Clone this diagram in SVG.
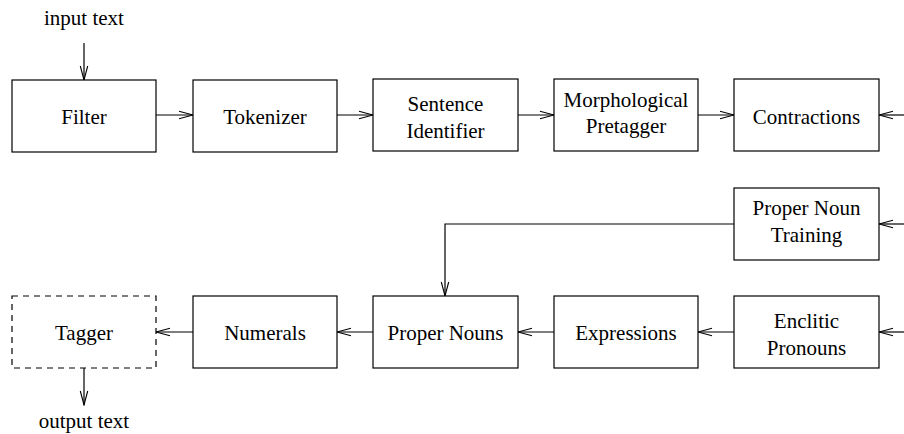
<svg xmlns="http://www.w3.org/2000/svg" width="904" height="434" viewBox="0 0 904 434">
<defs>
<style>
.box{fill:#fff;stroke:#000;stroke-width:1.2}
.dash{fill:#fff;stroke:#000;stroke-width:1.2;stroke-dasharray:6,5}
.lbl{font-family:"Liberation Serif","Times New Roman",serif;font-size:21px;fill:#000;text-anchor:middle}
.conn{fill:none;stroke:#000;stroke-width:1.2;marker-end:url(#ah)}
</style>
<marker id="ah" markerUnits="userSpaceOnUse" markerWidth="16" markerHeight="12" viewBox="0 0 16 12" refX="15" refY="6" orient="auto">
<path d="M1,2.3 L15,6 L1,9.7" fill="none" stroke="#000" stroke-width="1.1"/>
</marker>
</defs>
<rect width="904" height="434" fill="#fff"/>
<g id="connectors">
<path class="conn" d="M84,43 V80"/>
<path class="conn" d="M156,115 H193"/>
<path class="conn" d="M337,115 H373"/>
<path class="conn" d="M518,115 H554"/>
<path class="conn" d="M698,115 H734"/>
<path class="conn" d="M904,115 H879"/>
<path class="conn" d="M904,224 H879"/>
<path class="conn" d="M904,332 H879"/>
<path class="conn" d="M734,224 H445 V296"/>
<path class="conn" d="M734,332 H698"/>
<path class="conn" d="M554,332 H518"/>
<path class="conn" d="M373,332 H337"/>
<path class="conn" d="M193,332 H156"/>
<path class="conn" d="M84,368 V405"/>
</g>
<g id="input-text"><text class="lbl" x="84" y="25">input text</text></g>
<g id="output-text"><text class="lbl" x="84" y="428">output text</text></g>
<g id="filter"><rect class="box" x="12" y="80" width="144" height="72"/><text class="lbl" x="84" y="124">Filter</text></g>
<g id="tokenizer"><rect class="box" x="193" y="80" width="144" height="72"/><text class="lbl" x="265" y="124">Tokenizer</text></g>
<g id="sentence-identifier"><rect class="box" x="373" y="79" width="145" height="72"/><text class="lbl" x="445.5" y="111">Sentence</text><text class="lbl" x="445.5" y="138">Identifier</text></g>
<g id="morphological-pretagger"><rect class="box" x="554" y="79" width="144" height="72"/><text class="lbl" x="626" y="107">Morphological</text><text class="lbl" x="626" y="133">Pretagger</text></g>
<g id="contractions"><rect class="box" x="734" y="79" width="145" height="72"/><text class="lbl" x="806.5" y="124">Contractions</text></g>
<g id="proper-noun-training"><rect class="box" x="734" y="188" width="145" height="72"/><text class="lbl" x="806.5" y="215">Proper Noun</text><text class="lbl" x="806.5" y="242">Training</text></g>
<g id="enclitic-pronouns"><rect class="box" x="734" y="296" width="145" height="72"/><text class="lbl" x="806.5" y="328">Enclitic</text><text class="lbl" x="806.5" y="355">Pronouns</text></g>
<g id="expressions"><rect class="box" x="554" y="296" width="144" height="72"/><text class="lbl" x="626" y="340">Expressions</text></g>
<g id="proper-nouns"><rect class="box" x="373" y="296" width="145" height="72"/><text class="lbl" x="445.5" y="340">Proper Nouns</text></g>
<g id="numerals"><rect class="box" x="193" y="296" width="144" height="72"/><text class="lbl" x="265" y="340">Numerals</text></g>
<g id="tagger"><rect class="dash" x="12" y="296" width="144" height="72"/><text class="lbl" x="84" y="340">Tagger</text></g>
</svg>
